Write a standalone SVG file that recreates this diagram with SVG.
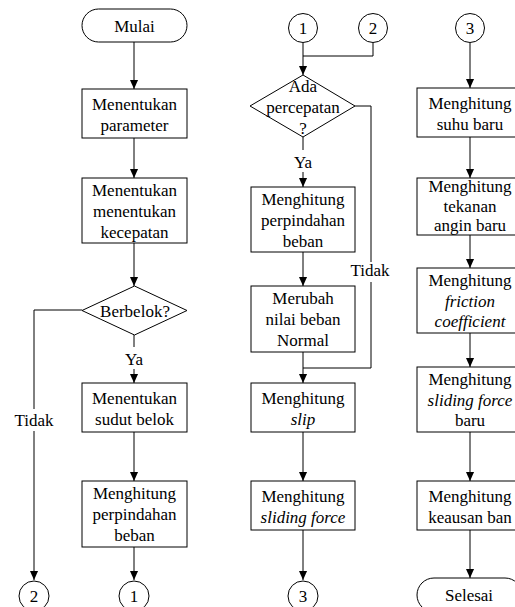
<svg xmlns="http://www.w3.org/2000/svg" width="515" height="607" viewBox="0 0 515 607">
<defs>
<marker id="ah" viewBox="0 0 10 10" refX="10" refY="5" markerWidth="9" markerHeight="9" markerUnits="userSpaceOnUse" orient="auto"><path d="M0,0.5 L10,5 L0,9.5 z" fill="#000"/></marker>
<style>
.s{fill:#fff;stroke:#000;stroke-width:1}
.t{font-size:17px;fill:#000;text-anchor:middle}
.i{font-style:italic}
.c{fill:none;stroke:#000;stroke-width:1}
.a{marker-end:url(#ah)}
.bg{fill:#fff;stroke:none}
</style>
</defs>
<rect width="515" height="607" fill="#fff"/>
<g font-family="'Liberation Serif', 'DejaVu Serif', serif">
<g id="connectors">
<path class="c a" d="M134,42 V89"/>
<path class="c a" d="M134,138 V178"/>
<path class="c a" d="M134,243 V286"/>
<path class="c a" d="M134,335 V383"/>
<path class="c a" d="M82,310 H34 V580"/>
<path class="c a" d="M134,432 V481"/>
<path class="c a" d="M134,547 V580"/>
<path class="c a" d="M303,43 V75"/>
<path class="c" d="M373,43 V56 H303"/>
<path class="c a" d="M303,137 V187"/>
<path class="c a" d="M303,252 V286"/>
<path class="c a" d="M303,352 V383"/>
<path class="c" d="M355,106 H371 V368 H303"/>
<path class="c a" d="M303,432 V481"/>
<path class="c a" d="M303,530 V580"/>
<path class="c a" d="M470,43 V88"/>
<path class="c a" d="M470,137 V178"/>
<path class="c a" d="M470,235 V268"/>
<path class="c a" d="M470,333 V367"/>
<path class="c a" d="M470,432 V481"/>
<path class="c a" d="M470,530 V578"/>
<rect class="bg" x="124" y="347" width="20" height="22"/>
<text class="t" x="134" y="365">Ya</text>
<rect class="bg" x="293" y="150" width="20" height="22"/>
<text class="t" x="303" y="168">Ya</text>
<rect class="bg" x="14" y="409" width="40" height="22"/>
<text class="t" x="34" y="426">Tidak</text>
<rect class="bg" x="351" y="262" width="40" height="20"/>
<text class="t" x="370" y="276">Tidak</text>
</g>
<g id="mulai"><rect class="s" x="82" y="9" width="105" height="33" rx="16.5"/><text class="t" x="134.5" y="31.5">Mulai</text></g>
<g id="param"><rect class="s" x="82" y="89" width="105" height="49"/><text class="t" x="134.5" y="109.5">Menentukan</text><text class="t" x="134.5" y="130.5">parameter</text></g>
<g id="kecepatan"><rect class="s" x="82" y="178" width="105" height="65"/><text class="t" x="134.5" y="195.5">Menentukan</text><text class="t" x="134.5" y="216.5">menentukan</text><text class="t" x="134.5" y="237.5">kecepatan</text></g>
<g id="berbelok"><polygon class="s" points="134.5,286 187,310.5 134.5,335 82,310.5"/><text class="t" x="135" y="316.5">Berbelok?</text></g>
<g id="sudut"><rect class="s" x="82" y="383" width="105" height="49"/><text class="t" x="134.5" y="403.5">Menentukan</text><text class="t" x="134.5" y="424.5">sudut belok</text></g>
<g id="perpindahan1"><rect class="s" x="82" y="481" width="105" height="66"/><text class="t" x="134.5" y="498.5">Menghitung</text><text class="t" x="134.5" y="519.5">perpindahan</text><text class="t" x="134.5" y="540.5">beban</text></g>
<g id="c2a"><circle class="s" cx="34" cy="596" r="15"/><text class="t" x="34" y="602">2</text></g>
<g id="c1a"><circle class="s" cx="134" cy="596" r="15"/><text class="t" x="134" y="602">1</text></g>
<g id="c1b"><circle class="s" cx="303" cy="28" r="14.5"/><text class="t" x="303" y="34">1</text></g>
<g id="c2b"><circle class="s" cx="373" cy="28" r="14.5"/><text class="t" x="373" y="34">2</text></g>
<g id="percepatan"><polygon class="s" points="303,75 355,106 303,137 250,106"/><text class="t" x="303" y="92">Ada</text><text class="t" x="303" y="113">percepatan</text><text class="t" x="303" y="134">?</text></g>
<g id="perpindahan2"><rect class="s" x="251" y="187" width="104" height="65"/><text class="t" x="303" y="204.5">Menghitung</text><text class="t" x="303" y="225.5">perpindahan</text><text class="t" x="303" y="246.5">beban</text></g>
<g id="merubah"><rect class="s" x="251" y="286" width="104" height="66"/><text class="t" x="303" y="303.5">Merubah</text><text class="t" x="303" y="324.5">nilai beban</text><text class="t" x="303" y="345.5">Normal</text></g>
<g id="slip"><rect class="s" x="251" y="383" width="104" height="49"/><text class="t" x="303" y="403.5">Menghitung</text><text class="t i" x="303" y="424.5">slip</text></g>
<g id="sliding"><rect class="s" x="251" y="481" width="104" height="49"/><text class="t" x="303" y="501.5">Menghitung</text><text class="t i" x="303" y="522.5">sliding force</text></g>
<g id="c3a"><circle class="s" cx="303" cy="596" r="15"/><text class="t" x="303" y="602">3</text></g>
<g id="c3b"><circle class="s" cx="470" cy="28" r="14.5"/><text class="t" x="470" y="34">3</text></g>
<g id="suhu"><rect class="s" x="417" y="88" width="105" height="49"/><text class="t" x="470" y="108.5">Menghitung</text><text class="t" x="470" y="129.5">suhu baru</text></g>
<g id="tekanan"><rect class="s" x="417" y="178" width="105" height="57"/><text class="t" x="470" y="192">Menghitung</text><text class="t" x="470" y="211.5">tekanan</text><text class="t" x="470" y="231">angin baru</text></g>
<g id="friction"><rect class="s" x="417" y="268" width="105" height="65"/><text class="t" x="470" y="286">Menghitung</text><text class="t i" x="470" y="306.5">friction</text><text class="t i" x="470" y="327">coefficient</text></g>
<g id="sliding2"><rect class="s" x="417" y="367" width="105" height="65"/><text class="t" x="470" y="385">Menghitung</text><text class="t i" x="470" y="405.5">sliding force</text><text class="t" x="470" y="426">baru</text></g>
<g id="keausan"><rect class="s" x="417" y="481" width="105" height="49"/><text class="t" x="470" y="501.5">Menghitung</text><text class="t" x="470" y="522.5">keausan ban</text></g>
<g id="selesai"><rect class="s" x="417" y="578" width="105" height="34" rx="17"/><text class="t" x="469" y="601">Selesai</text></g>
</g>
</svg>
